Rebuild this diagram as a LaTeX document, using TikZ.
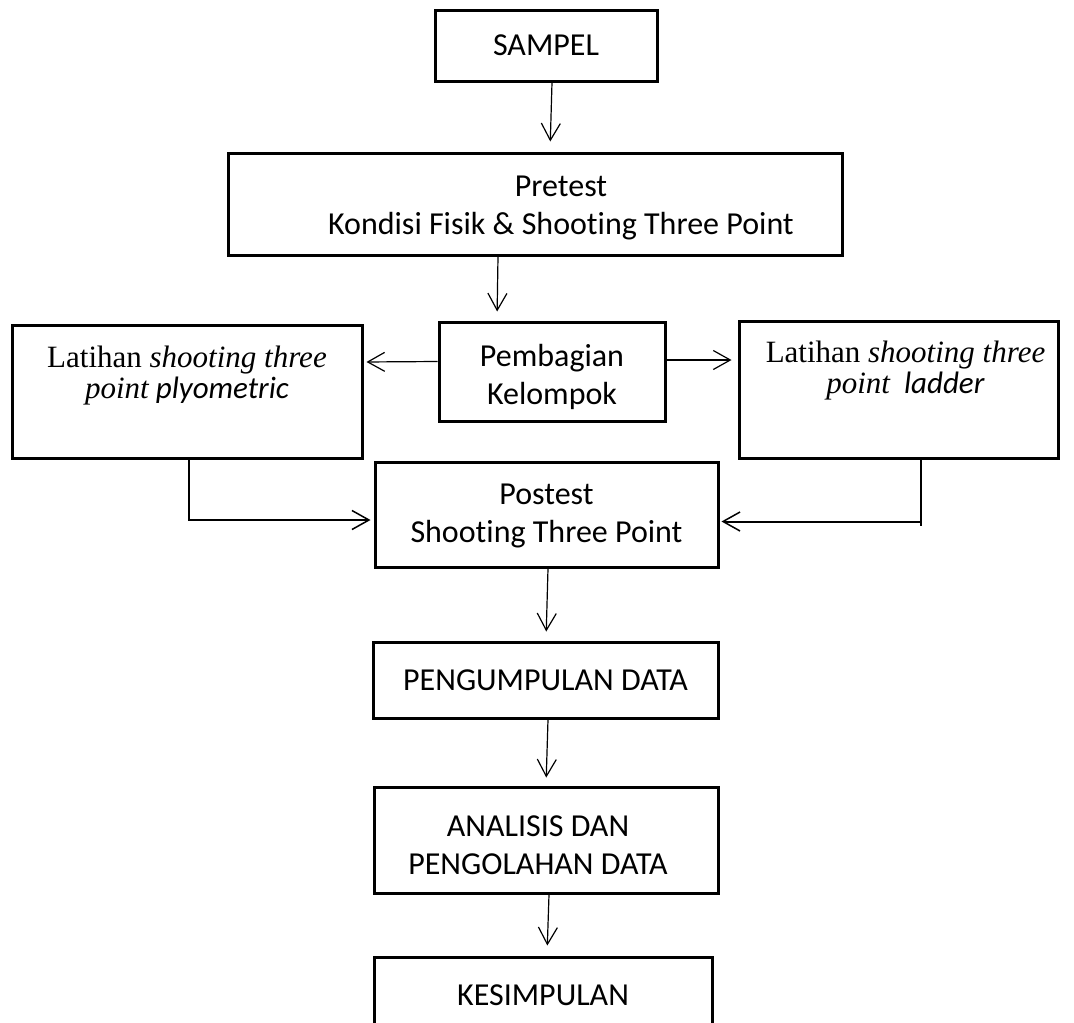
\documentclass[tikz,border=0pt]{standalone}
\usepackage{fontspec}
\setmainfont{Carlito}[RawFeature=-liga]
\newfontfamily\tnr{Liberation Serif}
\usetikzlibrary{arrows.meta}
\newcommand{\topstrut}[1]{\rule{0pt}{#1pt}}
\begin{document}
\begin{tikzpicture}[x=1pt,y=-1pt,
  box/.style={draw, line width=3pt, inner sep=0pt, align=center, font=\fontsize{32}{38}\selectfont},
  txt/.style={inner sep=0pt, align=center, font=\fontsize{31}{31}\selectfont},
  arr/.style={line width=1.2pt, -{Straight Barb[length=17pt,width=19pt,line width=1.2pt]}},
  conn/.style={line width=2pt}]
\useasboundingbox (0,0) rectangle (1074,1023);
\clip (0,0) rectangle (1074,1023);
\node[box, minimum width=222pt, minimum height=71pt] (sampel) at (546,45.5) {SAMPEL};
\node[box, minimum width=614pt, minimum height=102pt] (pretest) at (535,204) {\topstrut{28.8}\hspace*{52pt}Pretest\\\hspace*{52pt}Kondisi Fisik \& Shooting Three Point};
\node[box, minimum width=226pt, minimum height=99pt] (pemb) at (552,371.5) {\topstrut{33.8}Pembagian\\Kelompok};
\node[box, minimum width=350pt, minimum height=133pt] (lbox) at (187,391.5) {};
\node[txt, anchor=north] (ltext) at ([yshift=-22pt]lbox.north) {{\tnr Latihan \textit{shooting three}}\\{\tnr\itshape point} \textit{plyometric}};
\node[box, minimum width=319pt, minimum height=137pt] (rbox) at (898.5,389.5) {};
\node[txt, anchor=north] (rtext) at ([xshift=7pt,yshift=-21pt]rbox.north) {{\tnr Latihan \textit{shooting three}}\\{\tnr\itshape point}\ \ \textit{ladder}};
\node[box, minimum width=343pt, minimum height=105pt] (postest) at (546.5,514.5) {\topstrut{24.4}Postest\\Shooting Three Point};
\node[box, minimum width=345pt, minimum height=76pt] (kumpul) at (545.5,680) {PENGUMPULAN DATA};
\node[box, minimum width=344pt, minimum height=106pt] (analisis) at (546,840) {\topstrut{32}ANALISIS DAN\hspace*{16pt}\\PENGOLAHAN DATA\hspace*{16pt}};
\node[box, minimum width=338pt, minimum height=77pt] (simpul) at (543,995.5) {KESIMPULAN};

\draw[arr, shorten >=10pt] ([xshift=6pt]sampel.south) -- ([xshift=15pt]pretest.north);
\draw[arr, shorten >=9pt] ([xshift=-37pt]pretest.south) -- ([xshift=-55pt]pemb.north);
\draw[arr, shorten >=3pt] ([yshift=10pt]pemb.west) -- ([yshift=29.5pt]lbox.east);
\draw[arr, shorten >=6pt] ([yshift=11.5pt]pemb.east) -- ([yshift=29.5pt]rbox.west);
\draw[conn, -{Straight Barb[length=17pt,width=19pt,line width=1.5pt]}, shorten >=3pt] ([xshift=2pt]lbox.south) |- ([yshift=-5.5pt]postest.west);
\draw[conn] ([xshift=22.5pt]rbox.south) -- ++(0,66) coordinate (rc);
\coordinate (rend) at ([yshift=4pt]rc);
\draw[conn, -{Straight Barb[length=17pt,width=19pt,line width=1.5pt]}, shorten >=2pt] (rend) -- (rend -| postest.east);
\draw[arr, shorten >=9pt] ([xshift=1.5pt]postest.south) -- ([xshift=0.5pt]kumpul.north);
\draw[arr, shorten >=8pt] ([xshift=2.5pt]kumpul.south) -- (analisis.north);
\draw[arr, shorten >=10pt] ([xshift=3pt]analisis.south) -- ([xshift=4pt]simpul.north);
\end{tikzpicture}
\end{document}
